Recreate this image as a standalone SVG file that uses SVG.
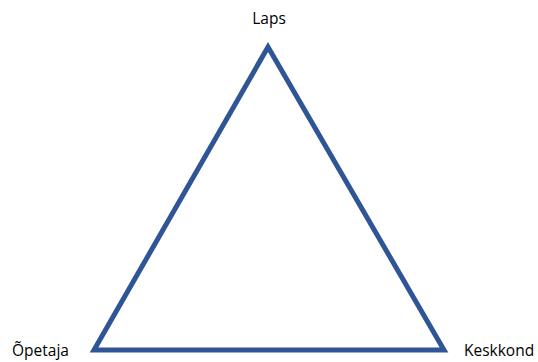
<svg xmlns="http://www.w3.org/2000/svg" width="538" height="362" viewBox="0 0 538 362">
<style>
.lbl{font-family:"Open Sans","Liberation Sans",sans-serif;font-size:15.5px;font-weight:500;fill:#000}
.tri{fill:#fff;stroke:#2F5597;stroke-width:5;stroke-linejoin:miter}
</style>
<rect width="538" height="362" fill="#fff"/>
<g id="triangle"><polygon class="tri" points="268,47 94,350 444,350"/></g>
<g id="laps"><text class="lbl" x="269" y="24" text-anchor="middle">Laps</text></g>
<g id="opetaja"><text class="lbl" x="12" y="356">Õpetaja</text></g>
<g id="keskkond"><text class="lbl" x="464" y="356">Keskkond</text></g>
</svg>
